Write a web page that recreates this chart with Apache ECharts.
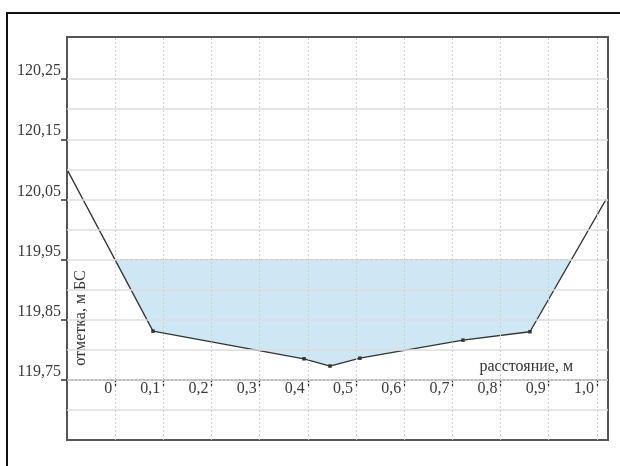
<!DOCTYPE html>
<html>
<head>
<meta charset="utf-8">
<script src="https://cdn.jsdelivr.net/npm/echarts@6/dist/echarts.min.js"></script>
<style>html,body{margin:0;padding:0;background:#fff;}#c{width:620px;height:466px;}</style>
</head>
<body>
<div id="c"></div>
<script>
// ---- data ----
const bedX = [-0.1, 0.0785, 0.392, 0.446, 0.508, 0.722, 0.861, 1.019];
const bedY = [120.10, 119.831, 119.785, 119.773, 119.786, 119.816, 119.830, 120.05];
const waterLevel = 119.95;
const waterEdgeX = [0.0, 0.948];
const xTicks = [0, 0.1, 0.2, 0.3, 0.4, 0.5, 0.6, 0.7, 0.8, 0.9, 1.0];
const yTicks = [119.75, 119.85, 119.95, 120.05, 120.15, 120.25];
const hGrid = [119.70, 119.75, 119.80, 119.85, 119.90, 119.95, 120.00, 120.05, 120.10, 120.15, 120.20, 120.25];
const xName = 'расстояние, м';
const yName = 'отметка, м БС';

const FONT = '"Liberation Serif", "Times New Roman", serif';
const bedData = bedX.map((x, i) => [x, bedY[i]]);
const fillPts = [[waterEdgeX[0], waterLevel]]
  .concat(bedData.slice(1, bedData.length - 1))
  .concat([[waterEdgeX[1], waterLevel]]);

const chart = echarts.init(document.getElementById('c'), null, {renderer: 'canvas'});
chart.setOption({
  animation: false,
  backgroundColor: '#fff',
  grid: {left: 67, top: 37, right: 12, bottom: 26, show: true, borderColor: '#555', borderWidth: 2, backgroundColor: 'transparent'},
  xAxis: {
    type: 'value', min: -0.1, max: 1.023, position: 'bottom', offset: -60,
    axisLine: {show: true, onZero: false, lineStyle: {color: '#222', type: [2, 2], width: 1.5}},
    axisTick: {show: true, customValues: xTicks, length: 6, lineStyle: {color: '#222', width: 1.2}},
    axisLabel: {customValues: xTicks, margin: 1, align: 'right', padding: [0, 3, 0, 0],
      fontFamily: FONT, fontSize: 16, color: '#3a3a3a',
      formatter: v => (Math.abs(v) < 1e-9 ? '0' : v.toFixed(1).replace('.', ','))},
    splitLine: {show: false}
  },
  yAxis: {
    type: 'value', min: 119.65, max: 120.32,
    axisLine: {show: false, onZero: false},
    axisTick: {show: true, customValues: yTicks, length: 6, lineStyle: {color: '#333', width: 1.5}},
    axisLabel: {customValues: yTicks, margin: 6, verticalAlign: 'bottom',
      fontFamily: FONT, fontSize: 16, color: '#3a3a3a',
      formatter: v => v.toFixed(2).replace('.', ',')},
    splitLine: {show: false}
  },
  graphic: [
    {type: 'rect', z: -10, shape: {x: 7, y: 13, width: 700, height: 600}, style: {fill: null, stroke: '#111', lineWidth: 2}},
    {type: 'text', x: 573, y: 375, style: {text: xName, font: '16px ' + FONT, fill: '#333', align: 'right', verticalAlign: 'bottom'}},
    {type: 'text', x: 81, y: 318, rotation: Math.PI / 2, style: {text: yName, font: '16px ' + FONT, fill: '#333', align: 'center', verticalAlign: 'middle'}}
  ],
  series: [
    {
      type: 'line', data: [], silent: true, z: 1,
      markLine: {
        silent: true, symbol: 'none', label: {show: false}, animation: false,
        data: hGrid.map(v => ({yAxis: v, lineStyle: {color: '#dcdcdc', width: 1.5, type: 'solid'}}))
          .concat(xTicks.map(v => ({xAxis: v, lineStyle: {color: '#d0d0d0', width: 1, type: [2, 2]}})))
      }
    },
    {
      type: 'custom', z: 2, silent: true,
      data: [0],
      renderItem: function (params, api) {
        const pts = fillPts.map(p => api.coord(p));
        return {type: 'polygon', shape: {points: pts}, style: {fill: 'rgba(150,205,235,0.48)', stroke: null}};
      }
    },
    {
      type: 'line', z: 3, silent: true, symbol: 'none',
      data: [[waterEdgeX[0], waterLevel], [waterEdgeX[1], waterLevel]],
      lineStyle: {color: '#888', width: 1, type: [3, 2]}
    },
    {
      type: 'line', z: 4, silent: true,
      data: bedData.map((p, i) => ({value: p, symbol: (i === 0 || i === bedData.length - 1) ? 'none' : 'rect'})),
      symbolSize: 3.5, showSymbol: true,
      itemStyle: {color: '#333'},
      lineStyle: {color: '#333', width: 1.3}
    }
  ]
});
</script>
</body>
</html>
